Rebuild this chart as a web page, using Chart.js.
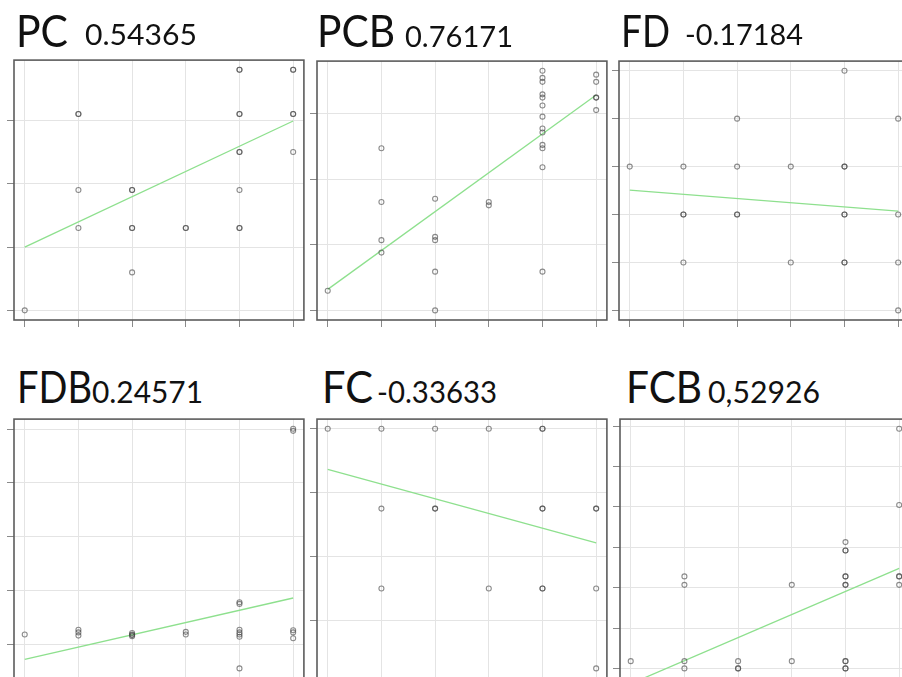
<!DOCTYPE html>
<html>
<head>
<meta charset="utf-8">
<script src="https://cdn.jsdelivr.net/npm/chart.js@4.4.0/dist/chart.umd.min.js"></script>
<style>
  html, body { margin: 0; padding: 0; background: #fff; }
  body { width: 902px; height: 677px; overflow: hidden; position: relative; }
  canvas { position: absolute; }
  .ttl { position: absolute; font-family: Lato, sans-serif; font-weight: 400; color: #111;
         white-space: nowrap; line-height: 1; transform-origin: 0 0; }
</style>
</head>
<body>
<script>
// x categories shared by every panel, and the tick values
const xTicks = [1, 2, 3, 4, 5, 6];
const fitX = [1, 6];

// PC 0.54365
const pcX = [1, 2, 2, 2, 2, 3, 3, 3, 3, 3, 4, 4, 5, 5, 5, 5, 5, 5, 5, 5, 5, 6, 6, 6, 6, 6];
const pcY = [1.0, 4.1, 4.1, 2.9, 2.3, 2.9, 2.9, 2.3, 2.3, 1.6, 2.3, 2.3,
             4.8, 4.8, 4.1, 4.1, 3.5, 3.5, 2.9, 2.3, 2.3, 4.8, 4.8, 4.1, 4.1, 3.5];
const pcFit = [2.0, 3.99];
const pcTicks = [1, 2, 3, 4];

// PCB 0.76171
const pcbX = [1, 2, 2, 2, 2, 3, 3, 3, 3, 3, 4, 4,
              5, 5, 5, 5, 5, 5, 5, 5, 5, 5, 5, 5, 5, 6, 6, 6, 6, 6];
const pcbY = [1.3, 3.47, 2.65, 2.07, 1.88, 2.70, 2.12, 2.07, 1.59, 1.0, 2.65, 2.60,
              4.65, 4.54, 4.48, 4.29, 4.24, 4.12, 3.95, 3.77, 3.71, 3.52, 3.47, 3.18, 1.59,
              4.59, 4.48, 4.24, 4.24, 4.05];
const pcbFit = [1.32, 4.28];
const pcbTicks = [1, 2, 3, 4];

// FD -0.17184
const fdX = [1, 2, 2, 2, 2, 3, 3, 3, 3, 4, 4, 5, 5, 5, 5, 5, 5, 5, 6, 6, 6, 6];
const fdY = [4, 4, 3, 3, 2, 5, 4, 3, 3, 4, 2, 6, 4, 4, 3, 3, 2, 2, 5, 3, 2, 1];
const fdFit = [3.51, 3.07];
const fdTicks = [1, 2, 3, 4, 5, 6];

// FDB 0.24571
const fdbX = [1, 2, 2, 2, 3, 3, 3, 3, 4, 4, 5, 5, 5, 5, 5, 5, 5, 6, 6, 6, 6, 6];
const fdbY = [1.18, 1.27, 1.22, 1.16, 1.21, 1.18, 1.15, 1.17, 1.23, 1.18,
              1.78, 1.75, 1.27, 1.22, 1.18, 1.14, 0.55, 5.01, 4.97, 1.26, 1.22, 1.11];
const fdbFit = [0.72, 1.86];
const fdbTicks = [1, 2, 3, 4, 5];

// FC -0.33633
const fcX = [1, 2, 2, 2, 3, 3, 3, 4, 4, 5, 5, 5, 5, 5, 5, 6, 6, 6, 6];
const fcY = [4, 4, 3, 2, 4, 3, 3, 4, 2, 4, 4, 3, 3, 2, 2, 3, 3, 2, 1];
const fcFit = [3.49, 2.57];
const fcTicks = [1.6, 2.4, 3.2, 4.0];

// FCB 0,52926
const fcbX = [1, 2, 2, 2, 2, 3, 3, 3, 4, 4, 5, 5, 5, 5, 5, 5, 5, 5, 5, 5, 5, 6, 6, 6, 6, 6];
const fcbY = [0.18, 2.28, 2.07, 0.18, 0, 0.18, 0, 0, 2.07, 0.18,
              3.13, 2.92, 2.92, 2.28, 2.28, 2.07, 2.07, 0.18, 0.18, 0, 0,
              5.94, 4.05, 2.28, 2.28, 2.07];
const fcbFit = [-0.38, 2.48];
const fcbTicks = [0, 1, 2, 3, 4, 5, 6];

const TICK = 7, PAD = 3;

const boxPlugin = {
    id: "box",
    beforeDatasetsDraw(chart) {
        const a = chart.chartArea;
        const ctx = chart.ctx;
        ctx.save();
        ctx.strokeStyle = "#5c5c5c";
        ctx.lineWidth = 1.6;
        ctx.strokeRect(a.left, a.top, a.right - a.left, a.bottom - a.top);
        ctx.restore();
    }
};

// one piece of title text, squeezed or stretched to the width it has in the picture
function addText(text, size, x, baseline, width) {
    const el = document.createElement("div");
    el.className = "ttl";
    el.style.fontSize = size + "px";
    el.style.left = x + "px";
    el.style.top = (baseline - 0.887 * size) + "px";
    el.textContent = text;
    document.body.appendChild(el);
    const w = el.getBoundingClientRect().width;
    if (w > 0) el.style.transform = "scaleX(" + (width / w) + ")";
}

function addTitle(name, value, nameBox, valueBox) {
    addText(name, 44, nameBox[0], nameBox[1], nameBox[2]);
    addText(value, valueBox[3], valueBox[0], valueBox[1], valueBox[2]);
}

function makePanel(box, xs, ys, fit, yTicks) {
    const canvas = document.createElement("canvas");
    canvas.width = box.w + TICK + PAD;
    canvas.height = box.h + TICK + PAD;
    canvas.style.left = (box.l - TICK) + "px";
    canvas.style.top = (box.t - PAD) + "px";
    document.body.appendChild(canvas);

    // R-style axis range: data range stretched by 4% on each side
    const ylo = Math.min(...ys), yhi = Math.max(...ys), ypad = (yhi - ylo) * 0.04;
    const xlo = Math.min(...xs), xhi = Math.max(...xs), xpad = (xhi - xlo) * 0.04;

    const grid = { color: "#e4e4e4", lineWidth: 1, tickColor: "#8a8a8a", tickLength: TICK, drawTicks: true };

    new Chart(canvas, {
        type: "scatter",
        data: {
            datasets: [
                {
                    type: "line",
                    data: fitX.map((x, i) => ({ x: x, y: fit[i] })),
                    borderColor: "#8ee08e",
                    borderWidth: 1.3,
                    pointRadius: 0,
                    order: 1
                },
                {
                    data: xs.map((x, i) => ({ x: x, y: ys[i] })),
                    pointRadius: 2.5,
                    borderWidth: 1.1,
                    borderColor: "rgba(70,70,70,0.62)",
                    backgroundColor: "rgba(0,0,0,0)",
                    order: 0
                }
            ]
        },
        options: {
            responsive: false,
            animation: false,
            devicePixelRatio: 1,
            layout: { padding: { top: PAD, right: PAD, left: 0, bottom: 0 } },
            plugins: { legend: { display: false }, tooltip: { enabled: false } },
            scales: {
                x: {
                    type: "linear",
                    min: xlo - xpad,
                    max: xhi + xpad,
                    afterBuildTicks: s => { s.ticks = xTicks.map(v => ({ value: v })); },
                    ticks: { display: false },
                    border: { display: false },
                    grid: grid
                },
                y: {
                    type: "linear",
                    min: ylo - ypad,
                    max: yhi + ypad,
                    afterBuildTicks: s => { s.ticks = yTicks.map(v => ({ value: v })); },
                    ticks: { display: false },
                    border: { display: false },
                    grid: grid
                }
            }
        },
        plugins: [boxPlugin]
    });
}

makePanel({ l: 14, t: 58, w: 292, h: 262 }, pcX, pcY, pcFit, pcTicks);
makePanel({ l: 317, t: 59, w: 292, h: 261 }, pcbX, pcbY, pcbFit, pcbTicks);
makePanel({ l: 619, t: 59, w: 292, h: 261 }, fdX, fdY, fdFit, fdTicks);
makePanel({ l: 14, t: 417, w: 292, h: 261 }, fdbX, fdbY, fdbFit, fdbTicks);
makePanel({ l: 317, t: 417, w: 292, h: 261 }, fcX, fcY, fcFit, fcTicks);
makePanel({ l: 620, t: 417, w: 292, h: 261 }, fcbX, fcbY, fcbFit, fcbTicks);

// [left, baseline, width] for the name, [left, baseline, width, size] for the value
addTitle("PC", "0.54365", [16, 47, 52], [85, 45, 112, 28]);
addTitle("PCB", "0.76171", [317, 47, 78], [405, 47, 108, 28]);
addTitle("FD", "-0.17184", [621, 47, 49], [685, 45, 118, 28]);
addTitle("FDB", "0.24571", [17, 403, 75], [92, 403, 111, 30]);
addTitle("FC", "-0.33633", [322, 403, 51], [377, 403, 120, 30]);
addTitle("FCB", "0,52926", [626, 403, 76], [708, 403, 112, 30]);
</script>
</body>
</html>
